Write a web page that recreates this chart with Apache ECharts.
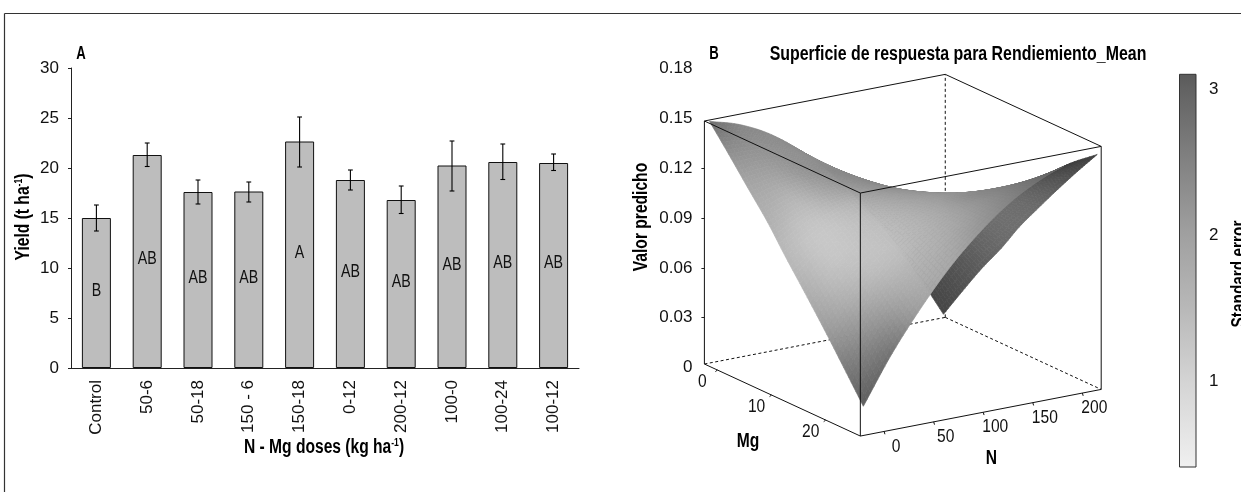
<!DOCTYPE html>
<html><head><meta charset="utf-8">
<style>html,body{margin:0;padding:0;background:#fff}#c{width:1241px;height:492px}</style>
<script src="https://cdn.jsdelivr.net/npm/echarts@6/dist/echarts.min.js"></script>
</head><body><div id="c"></div>
<script>
// ---- Panel A data
const doses = ['Control','50-6','50-18','150 - 6','150-18','0-12','200-12','100-0','100-24','100-12'];
const yieldMean = [15.0,21.3,17.6,17.65,22.65,18.8,16.8,20.25,20.6,20.5];
const yieldHigh = [16.3,22.5,18.8,18.6,25.1,19.8,18.2,22.7,22.4,21.4];
const yieldLow  = [13.7,20.15,16.4,16.6,20.1,17.8,15.45,17.7,18.85,19.75];
const groupLetters = ['B','AB','AB','AB','A','AB','AB','AB','AB','AB'];
const letterHeights = [7.7,10.9,9.0,9.0,11.5,9.6,8.6,10.3,10.5,10.5];
const yieldTicks = [0,5,10,15,20,25,30];

// ---- Panel B data: response surface (rows Mg, columns N)
const mgRange = [-2.4,26.4];
const nRange = [-24,219];
const mgGrid = [-2,1.5,5,8.7,12,15.6,19.2,22.8,26.4];
const nGrid = [-21,8,38,67,97,126,156,185,215];
const predicted = [
 [.1464,.1413,.1325,.1200,.1039,.0842,.0608,.0337,.0029],
 [.1321,.1312,.1265,.1183,.1063,.0908,.0716,.0486,.0221],
 [.1173,.1205,.1200,.1161,.1083,.0969,.0818,.0631,.0408],
 [.1019,.1094,.1132,.1132,.1097,.1025,.0916,.0770,.0589],
 [.0861,.0976,.1057,.1099,.1107,.1076,.1009,.0906,.0766],
 [.0697,.0855,.0976,.1061,.1110,.1121,.1097,.1035,.0937],
 [.0529,.0729,.0892,.1019,.1108,.1162,.1180,.1159,.1104],
 [.0354,.0596,.0801,.0971,.1102,.1198,.1256,.1278,.1265],
 [.0176,.0460,.0707,.0916,.1091,.1228,.1329,.1394,.1420]
];
// grey level of the upper face at each node, and of the underside along Mg
const upperGray = [
 [110,132,138,140,136,128,120,112,104],
 [144,146,144,142,138,132,124,116,108],
 [166,162,148,140,136,132,126,118,112],
 [176,184,166,152,140,134,128,122,114],
 [184,198,188,170,154,140,132,124,116],
 [174,196,194,182,164,148,134,124,114],
 [156,180,192,184,168,142,128,116,104],
 [124,152,176,178,164,142,120,102,84],
 [94,116,160,168,152,134,112,88,64]
];
const undersideGray = [70,80,92,104,110,106,92,76,62];
const zTickLabels = [0,0.03,0.06,0.09,0.12,0.15,0.18];
const zTickMarks = [0.03,0.06,0.09,0.12];
const mgTicks = [0,10,20];
const nTicks = [0,50,100,150,200];
const boxHeight = 0.1464;
const boxFloor = 0.0021;

// ---- Colour bar
const seLevels = [0.41,1,1.5,2,2.5,3,3.1];
const seGrays = [240,212,184,160,130,98,90];
const seTicks = [1,2,3];

const sans = '"Liberation Sans",sans-serif';
const ink = '#111';

// oblique view of the box
function project(n, mg, z){
  const u=(mg-mgRange[0])/(mgRange[1]-mgRange[0]);
  const v=(n-nRange[0])/(nRange[1]-nRange[0]);
  return [0.393*u+0.607*v, boxFloor+z-0.0434*u+0.0281*v];
}
function cr(a,b,c,d,t){return 0.5*(2*b+(c-a)*t+(2*a-5*b+4*c-d)*t*t+(3*b-a-3*c+d)*t*t*t);}
function pick(arr,i){
  if(i<0) return 2*arr[0]-arr[1];
  if(i>=arr.length) return 2*arr[arr.length-1]-arr[arr.length-2];
  return arr[i];
}
function smooth1(arr,s){
  const i=Math.min(Math.floor(s),arr.length-2),t=s-i;
  return cr(pick(arr,i-1),arr[i],arr[i+1],pick(arr,i+2),t);
}
function smooth2(tbl,s,t){
  return smooth1(tbl.map(r=>smooth1(r,t)),s);
}
// fine drawing facets through the table (like a smoothed line through its points)
const SUB=8,R=(mgGrid.length-1)*SUB,C=(nGrid.length-1)*SUB;
const nodes=[];
for(let i=0;i<=R;i++){
  nodes.push([]);
  for(let j=0;j<=C;j++){
    const s=i/SUB,t=j/SUB;
    nodes[i].push({mg:smooth1(mgGrid,s),n:smooth1(nGrid,t),z:smooth2(predicted,s,t),gu:smooth2(upperGray,s,t),gd:smooth1(undersideGray,s)});
  }
}
function px(nd){
  const u=(nd.mg-mgRange[0])/(mgRange[1]-mgRange[0]),v=(nd.n-nRange[0])/(nRange[1]-nRange[0]);
  return {u,v,x:156*u+241*v,y:72*u-46.7*v-1659*nd.z};
}
const facets=[];
for(let i=0;i<R;i++)for(let j=0;j<C;j++){
  const a=nodes[i][j],b=nodes[i+1][j],c=nodes[i+1][j+1],d=nodes[i][j+1];
  const A=px(a),B=px(b),D=px(d),Cc=px(c);
  const cross=(B.x-A.x)*(D.y-A.y)-(B.y-A.y)*(D.x-A.x);
  const top=cross<0;
  const g=Math.round(((top?a.gu+b.gu+c.gu+d.gu:a.gd+b.gd+c.gd+d.gd))/4);
  const um=(A.u+B.u+Cc.u+D.u)/4,vm=(A.v+B.v+Cc.v+D.v)/4,zm=(a.z+b.z+c.z+d.z)/4/boxHeight;
  const depth=-241*um+156*vm-102*zm;
  facets.push({depth,g,q:[a,b,c,d]});
}
facets.sort((p,q)=>q.depth-p.depth);

const corners={
  L:[nRange[0],mgRange[0]],F:[nRange[0],mgRange[1]],R:[nRange[1],mgRange[1]],B:[nRange[1],mgRange[0]]
};
function edge(a,za,b,zb){return [project(corners[a][0],corners[a][1],za),project(corners[b][0],corners[b][1],zb)];}
const dashedEdges=[edge('L',0,'B',0),edge('B',0,'R',0),edge('B',0,'B',boxHeight)];
const solidEdges=[
 edge('L',boxHeight,'B',boxHeight),edge('B',boxHeight,'R',boxHeight),edge('R',boxHeight,'F',boxHeight),edge('F',boxHeight,'L',boxHeight),
 edge('L',0,'L',boxHeight),edge('F',0,'F',boxHeight),edge('R',0,'R',boxHeight),edge('L',0,'F',0),edge('F',0,'R',0)
];
function edgeSeries(list,dash,z){
  return {type:'custom',xAxisIndex:1,yAxisIndex:1,clip:false,silent:true,z,data:list.map((_,i)=>[i]),
    renderItem(p,api){
      const e=list[api.value(0)],s=api.coord(e[0]),t=api.coord(e[1]);
      return {type:'line',shape:{x1:s[0],y1:s[1],x2:t[0],y2:t[1]},style:{stroke:ink,lineWidth:1,lineDash:dash?[3,2.5]:null}};
    }};
}
function box3dTicks(vals,toPoint,dx,dy,tx,ty){
  return {type:'custom',xAxisIndex:1,yAxisIndex:1,clip:false,silent:true,z:6,data:vals.map(v=>[v]),
    renderItem(p,api){
      const val=api.value(0),a=api.coord(toPoint(val));
      return {type:'group',children:[
        {type:'line',shape:{x1:a[0],y1:a[1],x2:a[0]+tx,y2:a[1]+ty},style:{stroke:ink,lineWidth:1}},
        {type:'text',x:a[0]+dx,y:a[1]+dy,scaleX:0.82,style:{x:0,y:0,text:String(val),font:'19px '+sans,fill:'#111',align:'center',verticalAlign:'middle'}}
      ]};
    }};
}
const chart=echarts.init(document.getElementById('c'),null,{renderer:'canvas'});
// condensed bold captions: the reference face is a narrow one
function gt(text,x,y,size,sx,rot,rich){
  const style={text,font:'bold '+size+'px '+sans,fill:'#000',align:'center',verticalAlign:'middle'};
  if(rich) style.rich=rich;
  return {type:'text',x,y,rotation:rot||0,scaleX:sx,style};
}
const supRich={s:{font:'bold 11px '+sans,fill:'#000',verticalAlign:'top',padding:[0,0,8,0]},b:{font:'bold 20px '+sans,fill:'#000'}};
chart.setOption({
  animation:false,
  backgroundColor:'#fff',
  grid:[
    {left:71,top:68,width:508,height:300},
    {left:704.4,top:68.7,width:396.8,height:398.4},
    {left:1179.5,top:74.3,width:16.5,height:392.7}
  ],
  xAxis:[
    {gridIndex:0,type:'category',data:doses,
     axisLine:{lineStyle:{color:'#222',width:1}},
     axisTick:{length:3,lineStyle:{color:'#222'}},
     axisLabel:{rotate:90,interval:0,margin:12,color:'#111',fontFamily:sans,fontSize:17}},
    {gridIndex:1,type:'value',min:0,max:1,show:false},
    {gridIndex:2,type:'value',min:0,max:1,show:false}
  ],
  yAxis:[
    {gridIndex:0,type:'value',min:0,max:30,interval:5,splitLine:{show:false},
     axisLine:{show:true,lineStyle:{color:'#222',width:1}},
     axisTick:{show:true,length:3,lineStyle:{color:'#222'}},
     axisLabel:{margin:12,color:'#111',fontFamily:sans,fontSize:17,customValues:yieldTicks}},
    {gridIndex:1,type:'value',min:-0.06,max:0.18,interval:0.03,splitLine:{show:false},
     axisLine:{show:false},
     axisTick:{show:true,length:3,customValues:zTickMarks,lineStyle:{color:'#222'}},
     axisLabel:{margin:12,color:'#111',fontFamily:sans,fontSize:17,customValues:zTickLabels,
       formatter:v=>Math.abs(v)<1e-9?'0':v.toFixed(2)}},
    {gridIndex:2,type:'value',position:'right',min:seLevels[0],max:seLevels[seLevels.length-1],splitLine:{show:false},
     axisLine:{show:false},
     axisTick:{show:true,length:4,customValues:seTicks,lineStyle:{color:'#222'}},
     axisLabel:{margin:13,color:'#111',fontFamily:sans,fontSize:17,customValues:seTicks}}
  ],
  series:[
    {type:'bar',xAxisIndex:0,yAxisIndex:0,data:yieldMean,barWidth:29,silent:true,
     itemStyle:{color:'#bdbdbd',borderColor:'#111',borderWidth:1}},
    {type:'custom',xAxisIndex:0,yAxisIndex:0,silent:true,z:5,
     data:doses.map((d,i)=>[i,yieldLow[i],yieldHigh[i]]),
     renderItem(p,api){
       const lo=api.coord([api.value(0),api.value(1)]),hi=api.coord([api.value(0),api.value(2)]);
       const st={stroke:'#000',lineWidth:1.1},w=2.4;
       return {type:'group',children:[
         {type:'line',shape:{x1:lo[0],y1:lo[1],x2:hi[0],y2:hi[1]},style:st},
         {type:'line',shape:{x1:lo[0]-w,y1:lo[1],x2:lo[0]+w,y2:lo[1]},style:st},
         {type:'line',shape:{x1:hi[0]-w,y1:hi[1],x2:hi[0]+w,y2:hi[1]},style:st}]};
     }},
    {type:'custom',xAxisIndex:0,yAxisIndex:0,silent:true,z:5,
     data:doses.map((d,i)=>[i,letterHeights[i]]),
     renderItem(p,api){
       const i=api.value(0),a=api.coord([i,api.value(1)]);
       return {type:'text',x:a[0],y:a[1],scaleX:0.79,style:{x:0,y:0,text:groupLetters[i],font:'18px '+sans,fill:'#111',align:'center',verticalAlign:'middle'}};
     }},
    edgeSeries(dashedEdges,true,2),
    {type:'custom',xAxisIndex:1,yAxisIndex:1,clip:false,silent:true,z:3,progressive:0,
     data:facets.map((f,i)=>[i]),
     renderItem(p,api){
       const f=facets[api.value(0)];
       const pts=f.q.map(nd=>api.coord(project(nd.n,nd.mg,nd.z)));
       const c='rgb('+f.g+','+f.g+','+f.g+')';
       return {type:'polygon',shape:{points:pts},style:{fill:c,stroke:c,lineWidth:0.7}};
     }},
    edgeSeries(solidEdges,false,4),
    box3dTicks(mgTicks,m=>project(nRange[0],m,0),-15,12,-2,1.6),
    box3dTicks(nTicks,n=>project(n,mgRange[1],0),12,15,0.8,2.8),
    {type:'custom',xAxisIndex:2,yAxisIndex:2,silent:true,z:3,
     data:[[0,seLevels[0],1,seLevels[seLevels.length-1]]],
     renderItem(p,api){
       const a=api.coord([api.value(0),api.value(1)]),b=api.coord([api.value(2),api.value(3)]);
       const span=seLevels[seLevels.length-1]-seLevels[0];
       const stops=seLevels.map((l,i)=>({offset:1-(l-seLevels[0])/span,color:'rgb('+seGrays[i]+','+seGrays[i]+','+seGrays[i]+')'}));
       return {type:'rect',shape:{x:a[0],y:b[1],width:b[0]-a[0],height:a[1]-b[1]},
         style:{fill:new echarts.graphic.LinearGradient(0,0,0,1,stops),stroke:'#333',lineWidth:1}};
     }}
  ],
  graphic:[
    {type:'line',shape:{x1:4.5,y1:13.5,x2:1241,y2:13.5},style:{stroke:'#333',lineWidth:1.2}},
    {type:'line',shape:{x1:4.5,y1:13.5,x2:4.5,y2:492},style:{stroke:'#333',lineWidth:1.2}},
    gt('A',81,54,18,0.73),
    gt('B',714,54,18,0.73),
    gt('Superficie de respuesta para Rendiemiento_Mean',958,55,19.5,0.816),
    gt('{b|Yield (t ha}{s|-1}{b|)}',23,217,20,0.78,Math.PI/2,supRich),
    gt('{b|N - Mg doses (kg ha}{s|-1}{b|)}',324,447,20,0.78,0,supRich),
    gt('Valor predicho',641,217,20,0.78,Math.PI/2),
    gt('Mg',748,441,20,0.78),
    gt('N',991.5,458,20,0.78),
    gt('Standard error',1239.5,274,20,0.77,Math.PI/2)
  ]
});
</script></body></html>
